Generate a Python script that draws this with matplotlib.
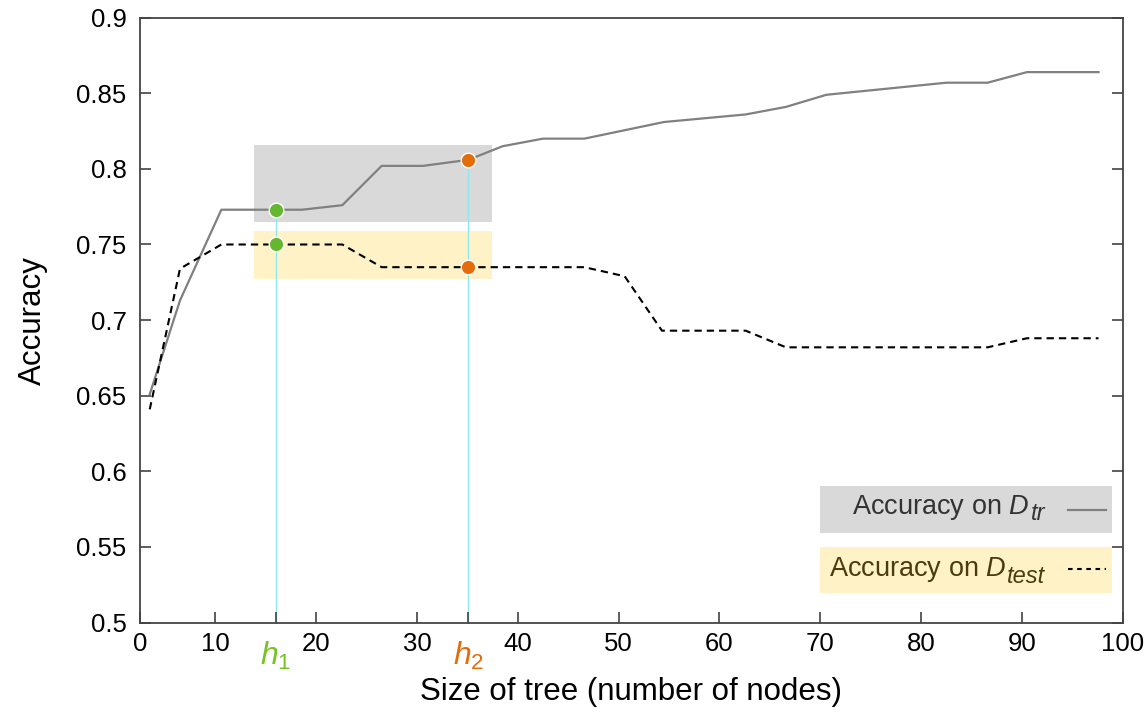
import numpy as np
import matplotlib.pyplot as plt
from matplotlib.patches import Rectangle

plt.rcParams['font.family'] = ['Liberation Sans', 'DejaVu Sans']
plt.rcParams['mathtext.fontset'] = 'custom'
plt.rcParams['mathtext.rm'] = 'Liberation Sans'
plt.rcParams['mathtext.it'] = 'Liberation Sans:italic'

# data
train_x = [3.5, 6.5, 10.6, 16.0, 18.6, 22.6, 26.5, 30.6, 35.1, 38.5, 42.5, 46.6,
           54.5, 62.6, 66.6, 70.6, 82.5, 86.6, 90.5, 97.6]
train_y = [0.651, 0.713, 0.773, 0.773, 0.773, 0.776, 0.802, 0.802, 0.806, 0.815, 0.820, 0.820,
           0.831, 0.836, 0.841, 0.849, 0.857, 0.857, 0.864, 0.864]
test_x = [3.5, 6.5, 8.3, 10.6, 16.0, 22.6, 26.5, 35.1, 46.6, 50.6, 54.3, 62.6,
          66.6, 86.6, 90.5, 97.6]
test_y = [0.641, 0.734, 0.741, 0.750, 0.750, 0.750, 0.735, 0.735, 0.735, 0.729, 0.693, 0.693,
          0.682, 0.682, 0.688, 0.688]

h1, h2 = 16.0, 35.1
box_x = (13.8, 37.4)
train_box = (0.765, 0.816)
test_box = (0.727, 0.759)

x_left = 2.56
xticks = [x_left, 10, 20, 30, 40, 50, 60, 70, 80, 90, 100]
xticklabels = ['0', '10', '20', '30', '40', '50', '60', '70', '80', '90', '100']
yticks = [0.5, 0.55, 0.6, 0.65, 0.7, 0.75, 0.8, 0.85, 0.9]
yticklabels = ['0.5', '0.55', '0.6', '0.65', '0.7', '0.75', '0.8', '0.85', '0.9']

gray_fill = '#d9d9d9'
yellow_fill = '#fff2c6'
green = '#64b72f'
orange = '#e46c0a'
cyan = '#8ee8ef'

fig = plt.figure(figsize=(11.46, 7.13), dpi=100)
ax = fig.add_axes([0.1224, 0.1269, 0.9797 - 0.1224, 0.9752 - 0.1269])

ax.add_patch(Rectangle((box_x[0], train_box[0]), box_x[1] - box_x[0], train_box[1] - train_box[0],
                       facecolor=gray_fill, edgecolor='none', zorder=0))
ax.add_patch(Rectangle((box_x[0], test_box[0]), box_x[1] - box_x[0], test_box[1] - test_box[0],
                       facecolor=yellow_fill, edgecolor='none', zorder=0))

h1_train = np.interp(h1, train_x, train_y)
h1_test = np.interp(h1, test_x, test_y)
h2_train = np.interp(h2, train_x, train_y)
h2_test = np.interp(h2, test_x, test_y)

ax.plot([h1, h1], [0.5, h1_train], color=cyan, lw=1.0, zorder=1)
ax.plot([h2, h2], [0.5, h2_train], color=cyan, lw=1.0, zorder=1)

ax.plot(train_x, train_y, color='#808080', lw=1.6, zorder=2)
ax.plot(test_x, test_y, color='black', lw=1.5, linestyle=(0, (3.5, 2.4)), zorder=2)

ax.plot([h1, h1], [h1_train, h1_test], 'o', ms=10.5, color=green, mec='white', mew=1.0, zorder=3)
ax.plot([h2, h2], [h2_train, h2_test], 'o', ms=10.5, color=orange, mec='white', mew=1.0, zorder=3)

ax.set_xlim(x_left, 100)
ax.set_ylim(0.5, 0.9)
ax.set_xticks(xticks)
ax.set_xticklabels(xticklabels)
ax.set_xticks([h1, h2], minor=True)
ax.set_yticks(yticks)
ax.set_yticklabels(yticklabels)
ax.tick_params(axis='both', which='both', direction='in', length=8, width=1.1,
               labelsize=18.5, color='#333333')
ax.tick_params(axis='y', right=True, pad=10)
ax.tick_params(axis='x', pad=6.5)
for s in ax.spines.values():
    s.set_color('#444444')
    s.set_linewidth(1.3)

ax.set_xlabel('Size of tree (number of nodes)', fontsize=22.5)
ax.xaxis.set_label_coords(0.499, -0.09)
ax.set_ylabel('Accuracy', fontsize=22.5)
ax.yaxis.set_label_coords(-0.094, 0.5)

ax.text(h1, -0.0703, r'$h_1$', transform=ax.get_xaxis_transform(), color='#77c225',
        fontsize=23, ha='center', va='baseline')
ax.text(h2, -0.0703, r'$h_2$', transform=ax.get_xaxis_transform(), color=orange,
        fontsize=23, ha='center', va='baseline')

# legend, drawn by hand like the gnuplot key
ax.add_patch(Rectangle((0.692, 0.1485), 0.297, 0.0772, transform=ax.transAxes,
                       facecolor=gray_fill, edgecolor='none', zorder=0))
ax.add_patch(Rectangle((0.692, 0.0483), 0.297, 0.076, transform=ax.transAxes,
                       facecolor=yellow_fill, edgecolor='none', zorder=0))

keys = [('tr', 0.1695, 0.186, '#333333', dict(color='#808080', lw=1.6)),
        ('test', 0.066, 0.088, '#4a3c10', dict(color='black', lw=1.5, linestyle=(0, (2.2, 2.2))))]
for sub, y_sub, y_line, tcol, lstyle in keys:
    st = ax.text(0.921, y_sub, sub, transform=ax.transAxes, ha='right', va='baseline',
                 fontsize=17, style='italic', color=tcol)
    ax.annotate('Accuracy on $D$', xy=(0, 0), xycoords=st, xytext=(-0.5, 8),
                textcoords='offset points', ha='right', va='baseline', fontsize=19.5, color=tcol)
    ax.plot([0.944, 0.983], [y_line, y_line], transform=ax.transAxes, **lstyle)

fig.savefig('out.png', dpi=100)
